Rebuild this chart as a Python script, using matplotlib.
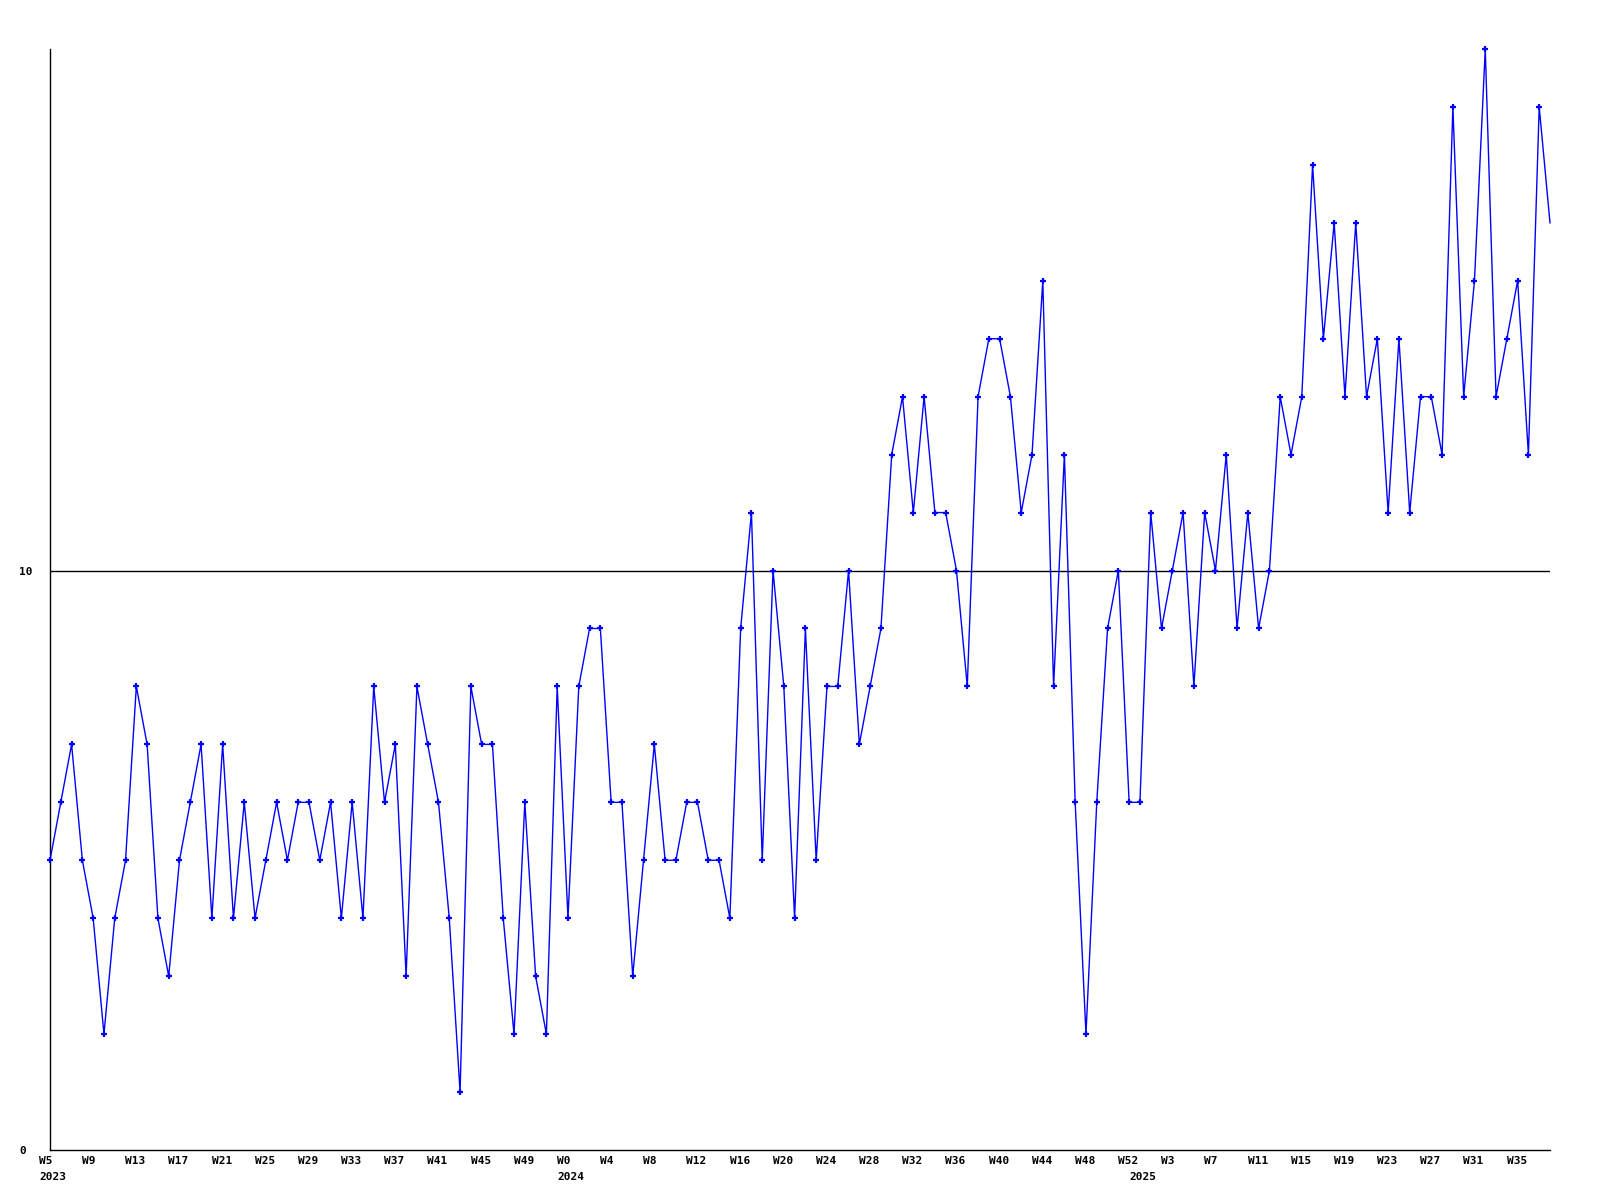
import matplotlib
matplotlib.use("Agg")
import matplotlib.pyplot as plt
import matplotlib.transforms as mtrans

# weekly counts, W5 2023 .. W38 2025
counts = [5, 6, 7, 5, 4, 2, 4, 5, 8, 7,
          4, 3, 5, 6, 7, 4, 7, 4, 6, 4,
          5, 6, 5, 6, 6, 5, 6, 4, 6, 4,
          8, 6, 7, 3, 8, 7, 6, 4, 1, 8,
          7, 7, 4, 2, 6, 3, 2, 8, 4, 8,
          9, 9, 6, 6, 3, 5, 7, 5, 5, 6,
          6, 5, 5, 4, 9, 11, 5, 10, 8, 4,
          9, 5, 8, 8, 10, 7, 8, 9, 12, 13,
          11, 13, 11, 11, 10, 8, 13, 14, 14, 13,
          11, 12, 15, 8, 12, 6, 2, 6, 9, 10,
          6, 6, 11, 9, 10, 11, 8, 11, 10, 12,
          9, 11, 9, 10, 13, 12, 13, 17, 14, 16,
          13, 16, 13, 14, 11, 14, 11, 13, 13, 12,
          18, 13, 15, 19, 13, 14, 15, 12, 18, 16]

tick_idx = [0, 4, 8, 12, 16, 20, 24, 28, 32, 36, 40, 44,
            48, 52, 56, 60, 64, 68, 72, 76, 80, 84, 88, 92, 96, 100,
            104, 108, 112, 116, 120, 124, 128, 132, 136]
tick_labels = ["W5", "W9", "W13", "W17", "W21", "W25", "W29", "W33", "W37",
               "W41", "W45", "W49",
               "W0", "W4", "W8", "W12", "W16", "W20", "W24", "W28", "W32",
               "W36", "W40", "W44", "W48", "W52",
               "W3", "W7", "W11", "W15", "W19", "W23", "W27", "W31", "W35"]
year_idx = [0, 48, 101]
year_labels = ["2023", "2024", "2025"]

fnt = dict(family="DejaVu Sans Mono", weight="bold", size=8)

fig = plt.figure(figsize=(16, 12), dpi=100)
ax = fig.add_axes([50 / 1600, 50 / 1200, 1500 / 1600, 1101 / 1200])

x = list(range(len(counts)))
ax.plot(x, counts, color="#0000ff", lw=1.0, marker="+", ms=5, mew=1.6,
        markevery=slice(0, len(counts) - 1), clip_on=False, zorder=3)
ax.axhline(10, color="black", lw=1.0, zorder=1)

ax.set_xlim(0, len(counts) - 1)
ax.set_ylim(0, 19)

for s in ["top", "right"]:
    ax.spines[s].set_visible(False)
for s in ["left", "bottom"]:
    ax.spines[s].set_linewidth(1.0)

ax.set_xticks(tick_idx)
ax.set_xticklabels(tick_labels, ha="left", fontdict=fnt)
ax.set_yticks([0, 10])
ax.set_yticklabels(["0", "10"], ha="left", fontdict=fnt)
ax.tick_params(axis="x", length=0, pad=4)
ax.tick_params(axis="y", length=0, pad=22)

offset = mtrans.ScaledTranslation(-0.11, 0, fig.dpi_scale_trans)
for lbl in ax.get_xticklabels():
    lbl.set_transform(lbl.get_transform() + offset)

trans = mtrans.blended_transform_factory(ax.transData, ax.transAxes)
yoff = mtrans.ScaledTranslation(-0.11, -0.215, fig.dpi_scale_trans)
for i, yr in zip(year_idx, year_labels):
    ax.text(i, 0, yr, transform=trans + yoff, ha="left", va="top", **fnt)

fig.savefig("out.png", dpi=100)
